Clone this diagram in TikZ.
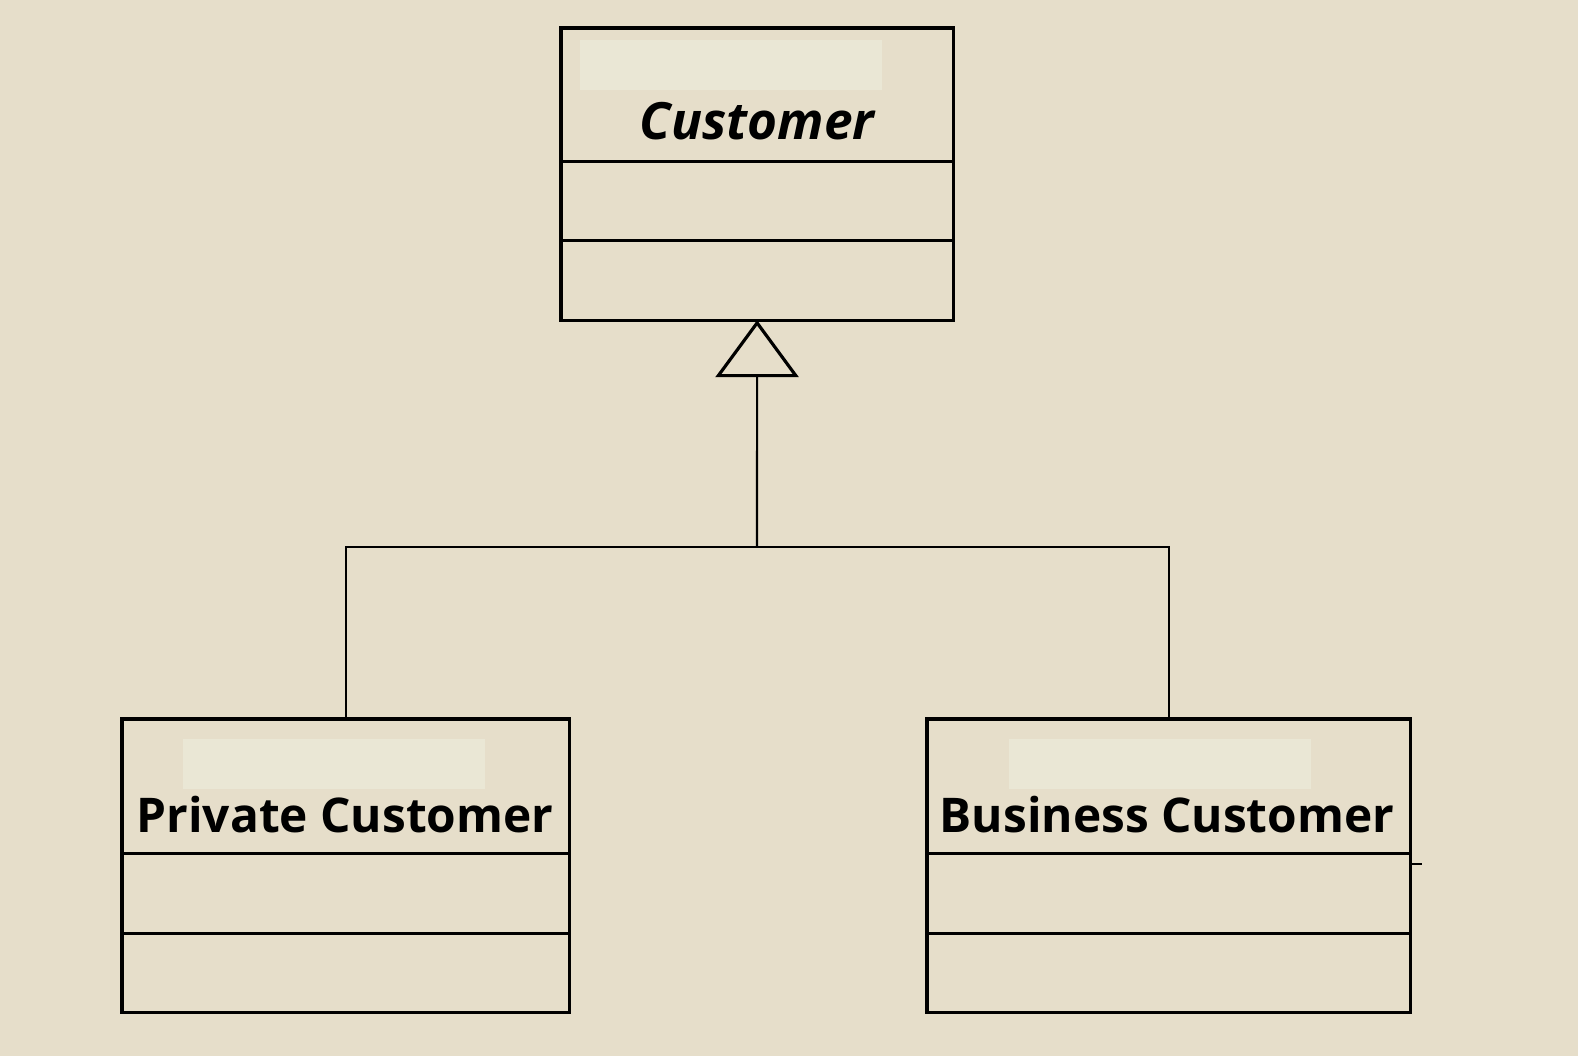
\documentclass[tikz,border=0pt]{standalone}
\usepackage{fontspec}
\setmainfont{Open Sans}
\usepackage{xcolor}
\usetikzlibrary{positioning,arrows.meta}
\definecolor{bg}{RGB}{230,222,202}
\definecolor{hl}{RGB}{234,231,213}
\newcommand{\cname}[2][13.6]{\fontsize{#1}{16}\selectfont\bfseries #2}

\begin{document}
\begin{tikzpicture}[x=0.01cm,y=-0.01cm,%
  box/.style={draw,line width=0.9pt,outer sep=0pt,inner sep=0pt},%
  stereo/.style={fill=hl,inner sep=0pt,minimum width=3.02cm,minimum height=0.5cm},%
  conn/.style={line width=0.6pt},%
  gen/.style={conn,-{Triangle[open,width=0.83cm,length=0.57cm,line width=0.9pt]}}%
  ]
  \fill[bg] (0,0) rectangle (1578,1056);
%
  \node (c-name) [box,minimum width=3.92cm,minimum height=1.33cm,anchor=north west] at (561,28) {};
  \node (c-attr) [box,minimum width=3.92cm,minimum height=0.79cm,below=0 of c-name] {};
  \node (c-ops)  [box,minimum width=3.92cm,minimum height=0.80cm,below=0 of c-attr] {};
  \node (c-st) [stereo] at (731,65) {};
  \node (c-lb) [anchor=base] at (757,139) {\cname[14.6]{\itshape Customer}};
%
  \node (pc-name) [box,minimum width=4.47cm,minimum height=1.34cm,anchor=north west] at (122,719) {};
  \node (pc-attr) [box,minimum width=4.47cm,minimum height=0.80cm,below=0 of pc-name] {};
  \node (pc-ops)  [box,minimum width=4.47cm,minimum height=0.79cm,below=0 of pc-attr] {};
  \node (pc-st) [stereo] at (334,764) {};
  \node (pc-lb) [anchor=base] at (345,832) {\cname{Private Customer}};
%
  \node (bc-name) [box,minimum width=4.83cm,minimum height=1.34cm,anchor=north west] at (927,719) {};
  \node (bc-attr) [box,minimum width=4.83cm,minimum height=0.80cm,below=0 of bc-name] {};
  \node (bc-ops)  [box,minimum width=4.83cm,minimum height=0.79cm,below=0 of bc-attr] {};
  \node (bc-st) [stereo] at (1160,764) {};
  \node (bc-lb) [anchor=base] at (1167,832) {\cname{Business Customer}};
%
  \coordinate (j) at (757,547);
  \coordinate (tick) at (1422,864);
  \draw[conn] (pc-name.north) |- (j);
  \draw[conn] (bc-name.north) |- (j);
  \draw[gen]  (j) -- (c-ops.south);
  \draw[conn] (bc-attr.east |- tick) -- (tick);
%
\end{tikzpicture}
\end{document}
